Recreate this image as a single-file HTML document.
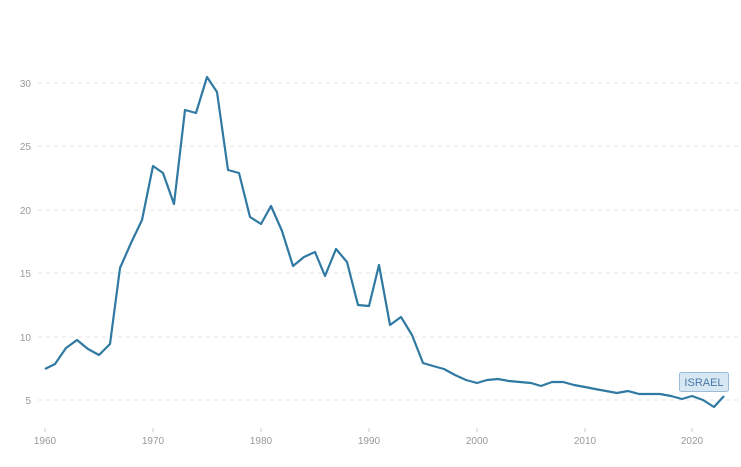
<!DOCTYPE html><html><head><style>body{margin:0;background:#fff}svg{font-family:"Liberation Sans",sans-serif}</style></head><body>
<svg width="741" height="462" xmlns="http://www.w3.org/2000/svg">
<g stroke="#e3e6ea" stroke-dasharray="4,4" stroke-width="1">
<line x1="38" x2="740" y1="83" y2="83"/><line x1="38" x2="740" y1="146" y2="146"/><line x1="38" x2="740" y1="210" y2="210"/><line x1="38" x2="740" y1="273" y2="273"/><line x1="38" x2="740" y1="337" y2="337"/><line x1="38" x2="740" y1="400" y2="400"/>
</g>
<g fill="#999" font-size="10" text-anchor="end">
<text x="31" y="87">30</text><text x="31" y="150">25</text><text x="31" y="214">20</text><text x="31" y="277">15</text><text x="31" y="341">10</text><text x="31" y="404">5</text>
</g>
<g fill="#999" font-size="10" text-anchor="middle">
<text x="45" y="444">1960</text><text x="153" y="444">1970</text><text x="261" y="444">1980</text><text x="369" y="444">1990</text><text x="477" y="444">2000</text><text x="585" y="444">2010</text><text x="692" y="444">2020</text>
</g>
<g stroke="#ccc"><line x1="45" x2="45" y1="428" y2="432"/><line x1="153" x2="153" y1="428" y2="432"/><line x1="261" x2="261" y1="428" y2="432"/><line x1="369" x2="369" y1="428" y2="432"/><line x1="477" x2="477" y1="428" y2="432"/><line x1="585" x2="585" y1="428" y2="432"/><line x1="692" x2="692" y1="428" y2="432"/></g>
<polyline fill="none" stroke="#2f79a2" stroke-width="2.2" stroke-linejoin="round" points="45,369 55,364 66,348 77,340 88,349 99,355 110,344 120,268 131,243 142,220 153,166 163,173 174,204 185,110 196,113 207,77 217,92 228,170 239,173 250,217 261,224 271,206 282,231 293,266 304,257 315,252 325,276 336,249 347,262 358,305 369,306 379,265 390,325 401,317 412,335 423,363 433,366 444,369 455,375 466,380 477,383 487,380 498,379 509,381 520,382 531,383 541,386 552,382 563,382 574,385 585,387 595,389 606,391 617,393 628,391 639,394 649,394 660,394 671,396 682,399 692,396 703,400 714,407 724,396"/>
<rect x="679.5" y="372.5" width="49" height="19" rx="2" fill="#d7e7f4" stroke="#9dbbd6"/>
<text x="704" y="386" text-anchor="middle" font-size="11" fill="#4a7aa5">ISRAEL</text>
</svg></body></html>
